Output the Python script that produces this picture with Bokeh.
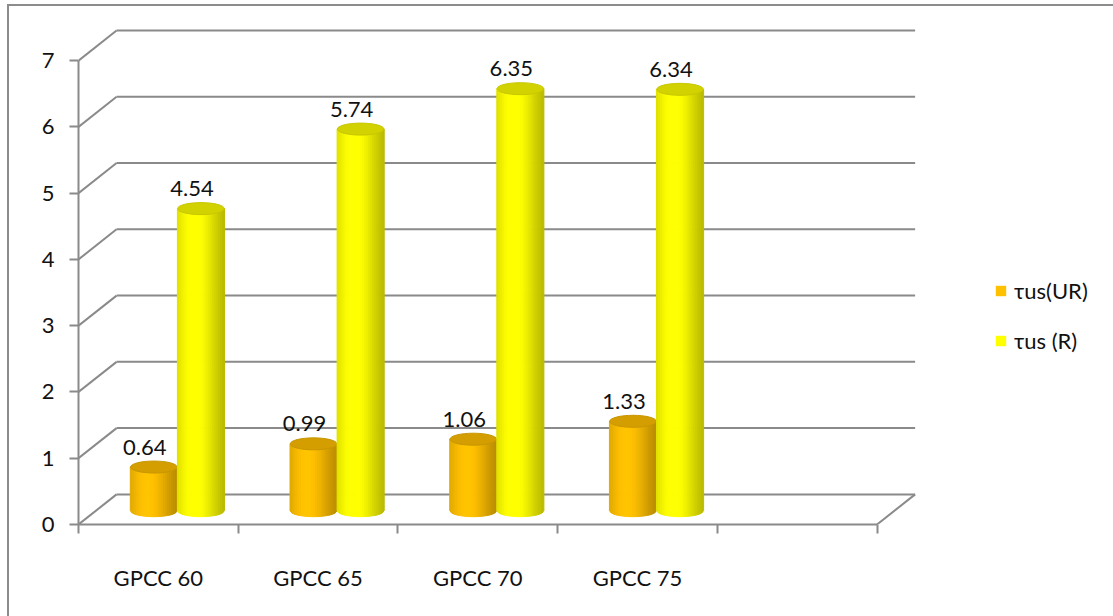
import math

from bokeh.core.properties import value
from bokeh.embed import file_html
from bokeh.layouts import column, row
from bokeh.models import FixedTicker, Legend, LegendItem, Spacer
from bokeh.plotting import figure
from bokeh.resources import INLINE

# ---- data -------------------------------------------------------------
categories = ["GPCC 60", "GPCC 65", "GPCC 70", "GPCC 75"]
tau_ur = [0.64, 0.99, 1.06, 1.33]
tau_r = [4.54, 5.74, 6.35, 6.34]
series_names = ["\u03c4us(UR)", "\u03c4us (R)"]
series_colors = ["#ffc000", "#ffff00"]
y_ticks = [0, 1, 2, 3, 4, 5, 6, 7]

# ---- layout constants -------------------------------------------------
FONT = "Lato"
N_SLOTS = len(categories) + 1          # one empty slot at the right end
FRAME_W, FRAME_H = 1031, 502
PX_X = 159.4                            # pixels per category slot
PX_Y = 66.0                             # pixels per y unit
X_END = FRAME_W / PX_X
Y_END = FRAME_H / PX_Y
DX = 38 / PX_X                          # depth offset of the back wall
DY = 30 / PX_Y
CYL_W = 47 / PX_X                       # cylinder diameter
ELL_H = 12                              # ellipse height in pixels
EH = (ELL_H / 2) / PX_Y                 # ellipse half height in data units
GRID = "#8a8a8a"
TEXT = "#111111"

p = figure(
    frame_width=FRAME_W, frame_height=FRAME_H,
    x_range=(0, X_END), y_range=(0, Y_END),
    output_backend="svg", toolbar_location=None,
    min_border_left=69, min_border_top=14, min_border_bottom=94,
    min_border_right=4,
)
p.styles = {"border-top": "2px solid #8c8c8c", "border-left": "2px solid #8c8c8c"}
p.outline_line_color = None
p.xgrid.visible = False
p.ygrid.visible = False
p.background_fill_color = None
p.border_fill_color = "white"

# ---- axes -------------------------------------------------------------
yax = p.yaxis[0]
yax.ticker = FixedTicker(ticks=y_ticks, minor_ticks=[])
yax.bounds = (0, max(y_ticks))
yax.axis_line_color = GRID
yax.axis_line_width = 2
yax.major_tick_line_color = GRID
yax.major_tick_line_width = 2
yax.major_tick_out = 9
yax.major_tick_in = 0
yax.minor_tick_line_color = None
yax.major_label_standoff = 15
yax.major_label_text_font = FONT
yax.major_label_text_font_size = "22px"
yax.major_label_text_color = TEXT

xax = p.xaxis[0]
centers = [i + 0.5 for i in range(len(categories))]
xax.ticker = FixedTicker(ticks=centers, minor_ticks=list(range(N_SLOTS + 1)))
xax.major_label_overrides = {c: lab for c, lab in zip(centers, categories)}
xax.bounds = (0, N_SLOTS)
xax.axis_line_color = GRID
xax.axis_line_width = 2
xax.major_tick_line_color = None
xax.minor_tick_line_color = GRID
xax.minor_tick_line_width = 2
xax.minor_tick_out = 9
xax.minor_tick_in = 0
xax.major_label_standoff = 30
xax.major_label_text_font = FONT
xax.major_label_text_font_size = "22px"
xax.major_label_text_color = TEXT

# ---- walls: back-wall gridlines, side-wall diagonals, floor edge -----
gx0 = [[DX, N_SLOTS + DX] for _ in y_ticks]
gy0 = [[v + DY, v + DY] for v in y_ticks]
p.multi_line(gx0, gy0, line_color=GRID, line_width=2)
dxs = [[0, DX] for _ in y_ticks]
dys = [[v, v + DY] for v in y_ticks]
p.multi_line(dxs, dys, line_color=GRID, line_width=2)
p.line([N_SLOTS, N_SLOTS + DX], [0, DY], line_color=GRID, line_width=2)

# ---- cylinders --------------------------------------------------------
def shade(rgb, f):
    return "#%02x%02x%02x" % tuple(max(0, min(255, int(round(c * f)))) for c in rgb)


def light(t):
    # t in [-1, 1] across the cylinder, brightest slightly left of centre
    return 0.80 + 0.22 * math.cos((t + 0.25) * 1.25) ** 2 - 0.07 * max(0.0, t) ** 3


BODY = [(255, 192, 0), (255, 255, 0)]
TOPS = ["#d49e00", "#d2d200"]
N_STRIPS = 24

values = [tau_ur, tau_r]
for s, vals in enumerate(values):
    xs_all, ys_all, cols = [], [], []
    cx_list, cy_list = [], []
    for i, v in enumerate(vals):
        cx = i + 0.5 + DX / 2 + (s - 0.5) * CYL_W
        base = DY / 2
        top = v + DY / 2
        r = CYL_W / 2
        for k in range(N_STRIPS):
            xa = cx - r + 2 * r * k / N_STRIPS
            xb = cx - r + 2 * r * (k + 1) / N_STRIPS
            ea = EH * math.sqrt(max(0.0, 1 - ((xa - cx) / r) ** 2))
            eb = EH * math.sqrt(max(0.0, 1 - ((xb - cx) / r) ** 2))
            xs_all.append([xa, xb, xb, xa])
            ys_all.append([base - ea - EH * 0.2, base - eb - EH * 0.2, top, top])
            t = ((xa + xb) / 2 - cx) / r
            cols.append(shade(BODY[s], light(t)))
        cx_list.append(cx)
        cy_list.append(top)
    p.patches(xs_all, ys_all, fill_color=cols, line_color=cols, line_width=1)
    p.ellipse(x=cx_list, y=cy_list, width=CYL_W * 0.99, height=ELL_H,
              height_units="screen", fill_color=TOPS[s],
              line_color=shade(BODY[s], 0.78), line_width=1)
    p.text(x=cx_list, y=cy_list, text=[f"{v:.2f}" for v in vals],
           x_offset=-9, y_offset=-20, text_align="center",
           text_baseline="middle", text_font=value(FONT),
           text_font_size="22px", text_color=TEXT)

# ---- legend (swatches placed off-range so only the legend shows them) --
items = []
for name, col in zip(series_names, series_colors):
    r = p.vbar(x=[-5], top=[1], width=0.1, fill_color=col, line_color=None)
    items.append(LegendItem(label=name, renderers=[r]))
legend = Legend(items=items, location=(916, 169))
legend.border_line_color = None
legend.background_fill_alpha = 0
legend.padding = 0
legend.margin = 0
legend.glyph_width = 13
legend.glyph_height = 13
legend.label_height = 30
legend.spacing = 20
legend.label_standoff = 7
legend.label_text_font = FONT
legend.label_text_font_size = "22px"
legend.label_text_color = TEXT
p.add_layout(legend, "center")

page = row(Spacer(width=7), column(Spacer(height=4), p))
open("out.html", "w").write(file_html(page, INLINE))
